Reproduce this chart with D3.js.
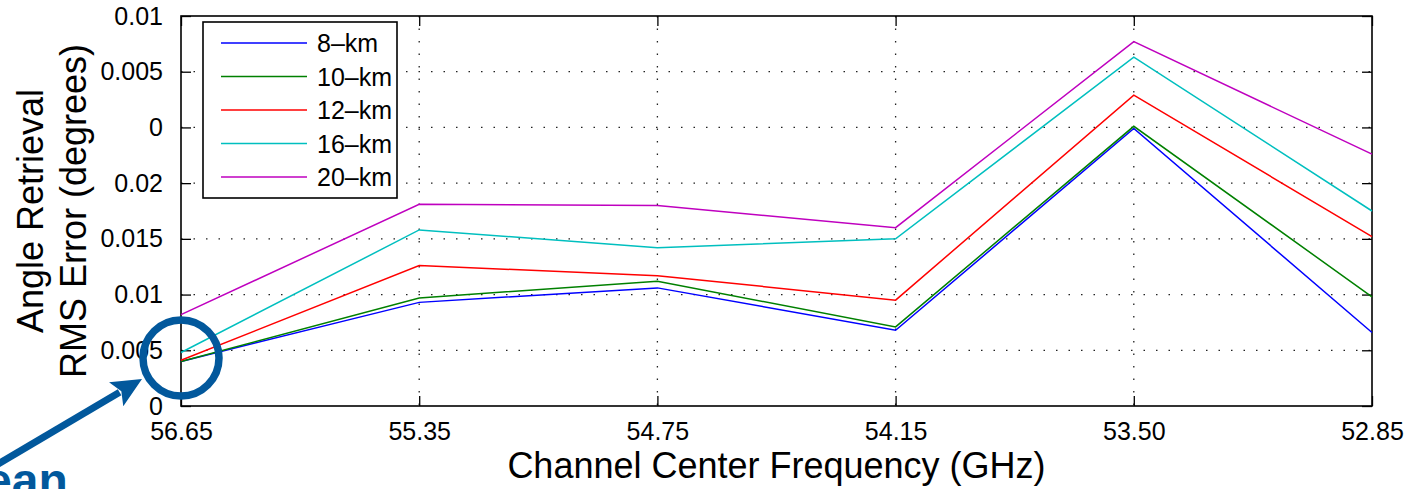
<!DOCTYPE html>
<html>
<head>
<meta charset="utf-8">
<script src="https://cdn.jsdelivr.net/npm/d3@7"></script>
<style>
    body { margin: 0; background: #fff; }
    svg { display: block; font-family: "Liberation Sans", Arial, sans-serif; }
</style>
</head>
<body>
<div id="chart"></div>
<script>
// channel frequencies (GHz) and RMS error per averaging scale
var freqs = ["56.65", "55.35", "54.75", "54.15", "53.50", "52.85"];
var km8 = [0.0040, 0.0093, 0.0106, 0.0068, 0.0249, 0.0066];
var km10 = [0.0040, 0.0097, 0.0112, 0.0071, 0.0251, 0.0098];
var km12 = [0.0041, 0.0126, 0.0117, 0.0095, 0.0279, 0.0152];
var km16 = [0.0048, 0.0158, 0.0142, 0.0150, 0.0313, 0.0175];
var km20 = [0.0082, 0.0181, 0.0180, 0.0160, 0.0327, 0.0226];
var seriesNames = ["8\u2013km", "10\u2013km", "12\u2013km", "16\u2013km", "20\u2013km"];
var seriesColors = ["#0000ff", "#008000", "#ff0000", "#00bfbf", "#bf00bf"];
var yTickValues = [0, 0.005, 0.01, 0.015, 0.02, 0.025, 0.03, 0.035];
var yTickLabels = ["0", "0.005", "0.01", "0.015", "0.02", "0", "0.005", "0.01"];

var W = 1412, H = 489;
var margin = { top: 16, right: 40, bottom: 83, left: 181 },
    width = W - margin.left - margin.right,
    height = H - margin.top - margin.bottom;

var svg = d3.select("#chart")
    .append("svg")
    .attr("width", W)
    .attr("height", H);

var g = svg.append("g")
    .attr("transform", "translate(" + margin.left + "," + margin.top + ")");

var x = d3.scalePoint()
    .domain(freqs)
    .range([0, width]);

var y = d3.scaleLinear()
    .domain([0, 0.035])
    .range([height, 0]);

// dotted grid
g.append("g")
    .selectAll("line")
    .data(yTickValues.slice(1, -1))
    .enter()
    .append("line")
    .attr("x1", 0)
    .attr("x2", width)
    .attr("y1", function (d) { return y(d); })
    .attr("y2", function (d) { return y(d); })
    .style("stroke", "#222")
    .style("stroke-width", 1.3)
    .style("stroke-dasharray", "1.5,11");

g.append("g")
    .selectAll("line")
    .data(freqs.slice(1, -1))
    .enter()
    .append("line")
    .attr("y1", 0)
    .attr("y2", height)
    .attr("x1", function (d) { return x(d); })
    .attr("x2", function (d) { return x(d); })
    .style("stroke", "#222")
    .style("stroke-width", 1.3)
    .style("stroke-dasharray", "1.5,11");

// axes, ticks pointing inward on all four sides
var yAxis = g.append("g")
    .call(d3.axisLeft(y)
        .tickValues(yTickValues)
        .tickSize(-10)
        .tickPadding(18)
        .tickFormat(function (d, i) { return yTickLabels[i]; }));

var yAxisR = g.append("g")
    .attr("transform", "translate(" + width + ",0)")
    .call(d3.axisRight(y).tickValues(yTickValues).tickSize(-10).tickFormat(""));

var xAxis = g.append("g")
    .attr("transform", "translate(0," + height + ")")
    .call(d3.axisBottom(x).tickSize(-10).tickPadding(16));

var xAxisT = g.append("g")
    .call(d3.axisTop(x).tickSize(-10).tickFormat(""));

[yAxis, yAxisR, xAxis, xAxisT].forEach(function (a) {
    a.select(".domain").remove();
    a.selectAll("line").style("stroke", "#000").style("stroke-width", 1.3);
    a.selectAll("text")
        .style("font-family", "'Liberation Sans', Arial, sans-serif")
        .style("font-size", "25px")
        .style("fill", "#000");
});

g.append("rect")
    .attr("width", width)
    .attr("height", height)
    .style("fill", "none")
    .style("stroke", "#000")
    .style("stroke-width", 1.6);

// series lines
var allSeries = [km8, km10, km12, km16, km20];
var line = d3.line()
    .x(function (d, i) { return x(freqs[i]); })
    .y(function (d) { return y(d); });

g.selectAll(".series")
    .data(allSeries)
    .enter()
    .append("path")
    .attr("class", "series")
    .attr("d", line)
    .style("fill", "none")
    .style("stroke", function (d, i) { return seriesColors[i]; })
    .style("stroke-width", 1.5);

// legend
var legend = g.append("g")
    .attr("transform", "translate(22,6)");

legend.append("rect")
    .attr("width", 194)
    .attr("height", 176)
    .style("fill", "#fff")
    .style("stroke", "#000")
    .style("stroke-width", 1.6);

var rows = legend.selectAll(".row")
    .data(seriesNames)
    .enter()
    .append("g")
    .attr("transform", function (d, i) { return "translate(0," + (21 + i * 33.5) + ")"; });

rows.append("line")
    .attr("x1", 18)
    .attr("x2", 104)
    .style("stroke", function (d, i) { return seriesColors[i]; })
    .style("stroke-width", 1.5);

rows.append("text")
    .attr("x", 114)
    .attr("dy", "0.36em")
    .style("font-size", "25px")
    .text(function (d) { return d; });

// axis labels
svg.append("text")
    .attr("x", margin.left + width / 2)
    .attr("y", 478)
    .attr("text-anchor", "middle")
    .style("font-size", "36px")
    .text("Channel Center Frequency (GHz)");

var ylab = svg.append("text")
    .attr("transform", "translate(0," + (margin.top + height / 2) + ") rotate(-90)")
    .attr("text-anchor", "middle")
    .style("font-size", "36px");

ylab.append("tspan").attr("x", 0).attr("y", 43).text("Angle Retrieval");
ylab.append("tspan").attr("x", 0).attr("y", 86).text("RMS Error (degrees)");

// highlight annotation
var blue = "#02589c";
g.append("circle")
    .attr("cx", x(freqs[0]))
    .attr("cy", y(0.0043))
    .attr("r", 38)
    .style("fill", "none")
    .style("stroke", blue)
    .style("stroke-width", 7.5);

var tip = [142 - margin.left, 379 - margin.top];
var tail = [-margin.left - 2, 464 - margin.top];
var ang = Math.atan2(tip[1] - tail[1], tip[0] - tail[0]);
var headLen = 30, headW = 14;
var base = [tip[0] - headLen * Math.cos(ang), tip[1] - headLen * Math.sin(ang)];

g.append("line")
    .attr("x1", tail[0])
    .attr("y1", tail[1])
    .attr("x2", base[0] + 4 * Math.cos(ang))
    .attr("y2", base[1] + 4 * Math.sin(ang))
    .style("stroke", blue)
    .style("stroke-width", 7);

g.append("path")
    .attr("d", "M" + tip + "L" + [base[0] + headW * Math.sin(ang), base[1] - headW * Math.cos(ang)] +
        "L" + [base[0] + 6 * Math.cos(ang), base[1] + 6 * Math.sin(ang)] +
        "L" + [base[0] - headW * Math.sin(ang), base[1] + headW * Math.cos(ang)] + "Z")
    .style("fill", blue);

// word cut off by the bottom edge, as in the source image
svg.append("text")
    .attr("x", -15)
    .attr("y", 497)
    .style("font-size", "48px")
    .style("font-weight", "bold")
    .style("fill", blue)
    .text("ean");
</script>
</body>
</html>
